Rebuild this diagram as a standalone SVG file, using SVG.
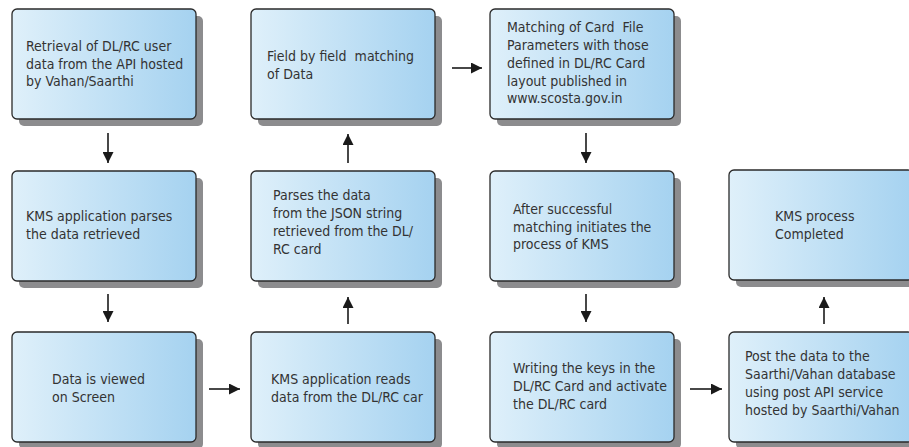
<svg xmlns="http://www.w3.org/2000/svg" width="909" height="447" viewBox="0 0 909 447">
<defs>
<linearGradient id="g" x1="0" y1="0" x2="1" y2="0">
<stop offset="0" stop-color="#dff0fa"/>
<stop offset="1" stop-color="#a5d2f0"/>
</linearGradient>
<marker id="ah" viewBox="0 0 10 10" refX="10" refY="5" markerWidth="11" markerHeight="11" markerUnits="userSpaceOnUse" orient="auto">
<path d="M0,0 L10,5 L0,10 Z" fill="#1a1a1a"/>
</marker>
<style>
.sh{fill:#8c8c8e}
.bx{fill:url(#g);stroke:#2a2a2a;stroke-width:1.3}
.t{font-family:"DejaVu Sans Condensed","DejaVu Sans",sans-serif;font-stretch:condensed;font-size:14px;fill:#333}
.c{stroke:#1a1a1a;stroke-width:1.6;fill:none;marker-end:url(#ah)}
</style>
</defs>
<rect width="909" height="447" fill="#fff"/>
<g id="n1"><rect class="sh" x="19" y="16" width="184" height="110" rx="5"/><rect class="bx" x="12" y="9" width="184" height="110" rx="5"/>
<text class="t"><tspan x="26" y="51">Retrieval of DL/RC user</tspan><tspan x="26" y="69">data from the API hosted</tspan><tspan x="26" y="86">by Vahan/Saarthi</tspan></text></g>
<g id="n2"><rect class="sh" x="258" y="16" width="184" height="110" rx="5"/><rect class="bx" x="251" y="9" width="184" height="110" rx="5"/>
<text class="t" xml:space="preserve"><tspan x="267" y="61">Field by field  matching</tspan><tspan x="267" y="79">of Data</tspan></text></g>
<g id="n3"><rect class="sh" x="497" y="16" width="184" height="110" rx="5"/><rect class="bx" x="490" y="9" width="184" height="110" rx="5"/>
<text class="t" xml:space="preserve"><tspan x="507" y="32">Matching of Card  File</tspan><tspan x="507" y="50">Parameters with those</tspan><tspan x="507" y="68">defined in DL/RC Card</tspan><tspan x="507" y="86">layout published in</tspan><tspan x="507" y="103">www.scosta.gov.in</tspan></text></g>
<g id="n4"><rect class="sh" x="19" y="178" width="184" height="110" rx="5"/><rect class="bx" x="12" y="171" width="184" height="110" rx="5"/>
<text class="t"><tspan x="26" y="221">KMS application parses</tspan><tspan x="26" y="239">the data retrieved</tspan></text></g>
<g id="n5"><rect class="sh" x="258" y="178" width="184" height="110" rx="5"/><rect class="bx" x="251" y="171" width="184" height="110" rx="5"/>
<text class="t"><tspan x="273" y="200">Parses the data</tspan><tspan x="273" y="218">from the JSON string</tspan><tspan x="273" y="236">retrieved from the DL/</tspan><tspan x="273" y="254">RC card</tspan></text></g>
<g id="n6"><rect class="sh" x="497" y="178" width="184" height="110" rx="5"/><rect class="bx" x="490" y="171" width="184" height="110" rx="5"/>
<text class="t"><tspan x="513" y="214">After successful</tspan><tspan x="513" y="232">matching initiates the</tspan><tspan x="513" y="249">process of KMS</tspan></text></g>
<g id="n7"><rect class="sh" x="736" y="177" width="184" height="110" rx="5"/><rect class="bx" x="729" y="170" width="184" height="110" rx="5"/>
<text class="t"><tspan x="775" y="221">KMS process</tspan><tspan x="775" y="239">Completed</tspan></text></g>
<g id="n8"><rect class="sh" x="19" y="339" width="184" height="110" rx="5"/><rect class="bx" x="12" y="332" width="184" height="110" rx="5"/>
<text class="t"><tspan x="52" y="384">Data is viewed</tspan><tspan x="52" y="402">on Screen</tspan></text></g>
<g id="n9"><rect class="sh" x="258" y="339" width="184" height="110" rx="5"/><rect class="bx" x="251" y="332" width="184" height="110" rx="5"/>
<text class="t"><tspan x="271" y="384">KMS application reads</tspan><tspan x="271" y="402">data from the DL/RC car</tspan></text></g>
<g id="n10"><rect class="sh" x="497" y="339" width="184" height="110" rx="5"/><rect class="bx" x="490" y="332" width="184" height="110" rx="5"/>
<text class="t"><tspan x="513" y="373">Writing the keys in the</tspan><tspan x="513" y="391">DL/RC Card and activate</tspan><tspan x="513" y="409">the DL/RC card</tspan></text></g>
<g id="n11"><rect class="sh" x="736" y="339" width="184" height="110" rx="5"/><rect class="bx" x="729" y="332" width="184" height="110" rx="5"/>
<text class="t"><tspan x="745" y="361">Post the data to the</tspan><tspan x="745" y="379">Saarthi/Vahan database</tspan><tspan x="745" y="397">using post API service</tspan><tspan x="745" y="415">hosted by Saarthi/Vahan</tspan></text></g>
<g id="connectors">
<line class="c" x1="108" y1="133" x2="108" y2="163"/>
<line class="c" x1="108" y1="294" x2="108" y2="322"/>
<line class="c" x1="209" y1="389" x2="240" y2="389"/>
<line class="c" x1="348" y1="324" x2="348" y2="297"/>
<line class="c" x1="348" y1="163" x2="348" y2="134"/>
<line class="c" x1="452" y1="68" x2="482" y2="68"/>
<line class="c" x1="586" y1="133" x2="586" y2="163"/>
<line class="c" x1="586" y1="294" x2="586" y2="322"/>
<line class="c" x1="690" y1="389" x2="722" y2="389"/>
<line class="c" x1="824" y1="324" x2="824" y2="297"/>
</g>
</svg>
